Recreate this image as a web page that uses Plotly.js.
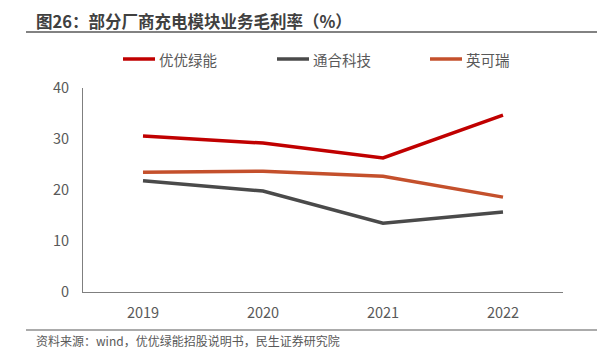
<!DOCTYPE html>
<html>
<head>
<meta charset="utf-8">
<script src="https://cdn.plot.ly/plotly-3.0.1.min.js"></script>
<style>html,body{margin:0;padding:0;background:#fff;}#chart{width:605px;height:352px;}</style>
</head>
<body>
<div id="chart"></div>
<script>
var years = ['2019', '2020', '2021', '2022'];
var youyou = [30.6, 29.2, 26.3, 34.7];
var tonghe = [21.8, 19.8, 13.5, 15.7];
var yingkeru = [23.5, 23.7, 22.7, 18.6];
var names = ['优优绿能', '通合科技', '英可瑞'];
var colors = ['#C00000', '#4A4A4A', '#C4502C'];
var yTicks = [0, 10, 20, 30, 40];

var F = '"Noto Sans CJK SC", "Noto Sans", sans-serif';
var series = [youyou, tonghe, yingkeru];
var traces = series.map(function (s, i) {
  return {x: years, y: s, name: names[i], type: 'scatter', mode: 'lines',
    line: {color: colors[i], width: 3.5}, showlegend: false};
});

var W = 605, H = 352, L = 83, R = 42, T = 88, B = 60;
function px(x){return (x - L)/(W - L - R);}
function py(y){return (H - B - y)/(H - T - B);}

var shapes = [
  {type: 'line', xref: 'paper', yref: 'paper', x0: px(26), x1: px(597), y0: py(32), y1: py(32),
    line: {color: '#595959', width: 1.5}},
  {type: 'line', xref: 'paper', yref: 'paper', x0: px(26), x1: px(597), y0: py(330), y1: py(330),
    line: {color: '#595959', width: 1.2}}
];
var annotations = [
  {xref: 'paper', yref: 'paper', x: px(34), y: py(21), xanchor: 'left', yanchor: 'middle',
    text: '<b>图26：部分厂商充电模块业务毛利率（%）</b>', showarrow: false,
    font: {family: F, size: 16.5, color: '#404040'}},
  {xref: 'paper', yref: 'paper', x: px(34), y: py(340), xanchor: 'left', yanchor: 'middle',
    text: '资料来源：wind，优优绿能招股说明书，民生证券研究院', showarrow: false,
    font: {family: F, size: 12, color: '#595959'}}
];
// manual legend
var legX = [123, 277, 430];
names.forEach(function (n, i) {
  shapes.push({type: 'line', xref: 'paper', yref: 'paper', x0: px(legX[i]), x1: px(legX[i] + 32),
    y0: py(59), y1: py(59), line: {color: colors[i], width: 3.5}});
  annotations.push({xref: 'paper', yref: 'paper', x: px(legX[i] + 34), y: py(59), xanchor: 'left',
    yanchor: 'middle', text: n, showarrow: false, font: {family: F, size: 14.5, color: '#595959'}});
});

var layout = {
  width: W, height: H,
  margin: {l: L, r: R, t: T, b: B},
  paper_bgcolor: '#fff', plot_bgcolor: '#fff',
  font: {family: F, color: '#595959', size: 14},
  showlegend: false,
  xaxis: {type: 'category', showgrid: false, zeroline: false, showline: true,
    linecolor: '#7f7f7f', linewidth: 1, ticks: '', ticklabelstandoff: 8,
    tickfont: {size: 14.5, color: '#595959'}, range: [-0.5, 3.5], fixedrange: true},
  yaxis: {range: [0, 40], tickvals: yTicks, showgrid: false, zeroline: false, showline: true,
    linecolor: '#7f7f7f', linewidth: 1, ticks: '', ticklen: 0, ticklabelstandoff: 10,
    tickfont: {size: 14.5, color: '#595959'}, fixedrange: true},
  shapes: shapes,
  annotations: annotations
};
Plotly.newPlot('chart', traces, layout, {displayModeBar: false, staticPlot: true});
</script>
</body>
</html>
